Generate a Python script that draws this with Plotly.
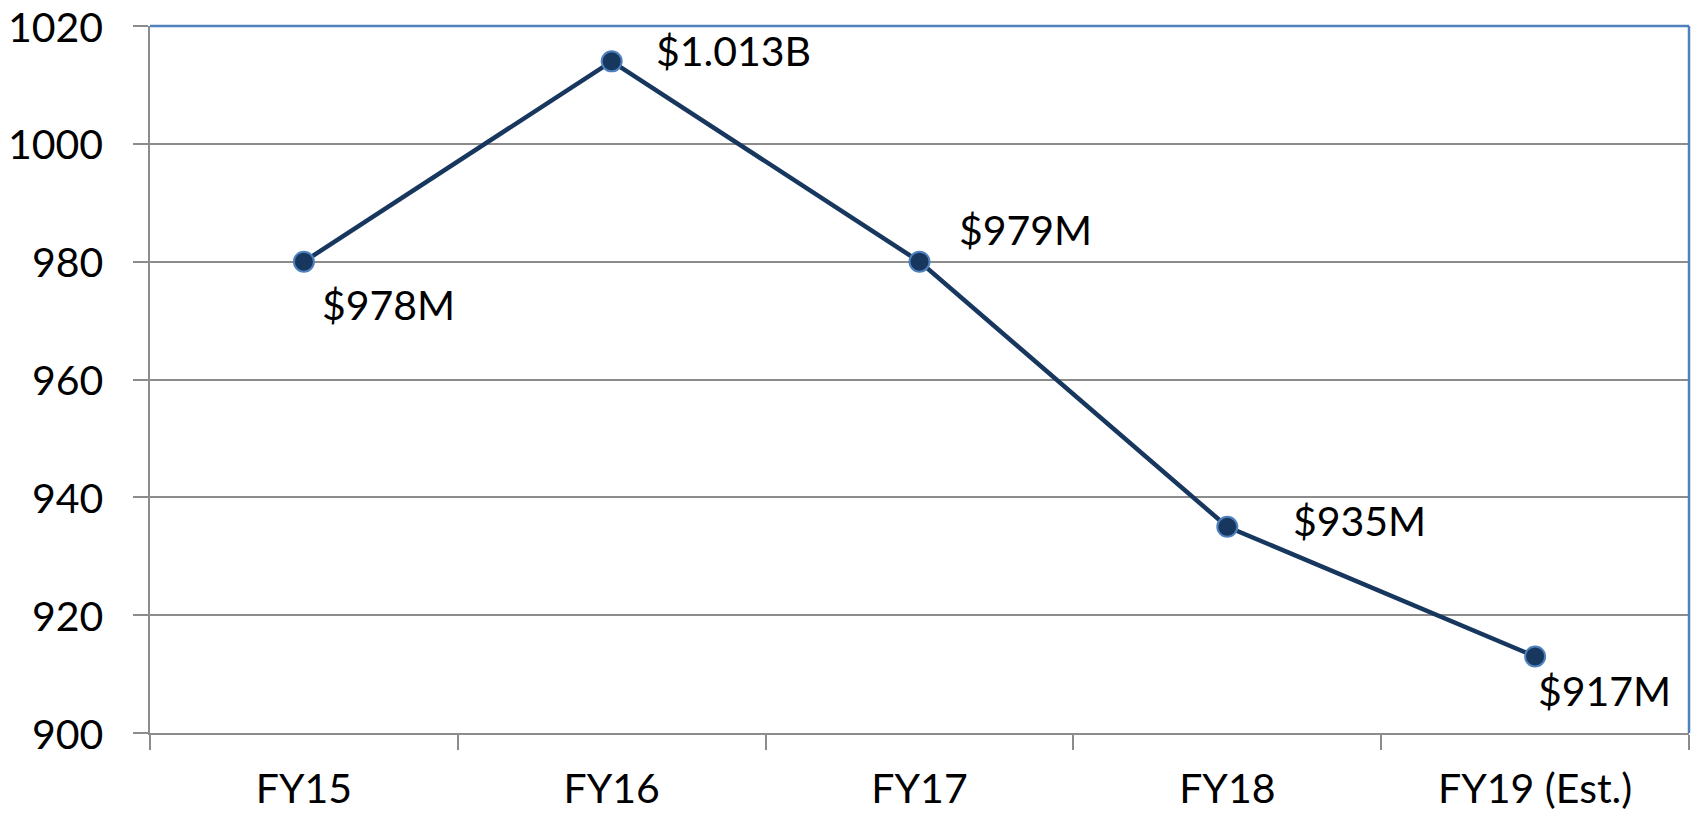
import plotly.graph_objects as go

categories = ["FY15", "FY16", "FY17", "FY18", "FY19 (Est.)"]
values = [980, 1014, 980, 935, 913]
labels = ["$978M", "$1.013B", "$979M", "$935M", "$917M"]
y_ticks = [900, 920, 940, 960, 980, 1000, 1020]

# label placement (pixel offsets from marker): style only
label_offsets = [(16, -43), (42, 11), (37, 32), (64, 6), (1, -34)]

FONT = "Lato"
FS = 41
GRID = "#8c8c8c"
BLUE = "#4F81BD"
NAVY = "#17375E"

fig = go.Figure()
fig.add_trace(go.Scatter(
    x=categories, y=values, mode="lines+markers",
    line=dict(color=NAVY, width=4.5),
    marker=dict(size=20, color=NAVY, line=dict(color=BLUE, width=2)),
    showlegend=False, hoverinfo="skip",
))

for c, v, t, (dx, dy) in zip(categories, values, labels, label_offsets):
    fig.add_annotation(x=c, y=v, text=t, showarrow=False,
                       xanchor="left", yanchor="middle",
                       xshift=dx, yshift=dy,
                       font=dict(family=FONT, size=FS, color="black"))

# y-axis tick labels, placed on the y scale
for yv in y_ticks:
    fig.add_annotation(xref="paper", yref="y", x=0, y=yv, text=str(yv),
                       showarrow=False, xanchor="right", yanchor="middle",
                       xshift=-45,
                       font=dict(family=FONT, size=FS, color="black"))

fig.update_layout(
    width=1694, height=817,
    margin=dict(l=150, r=5, t=26, b=84),
    paper_bgcolor="white", plot_bgcolor="white",
    font=dict(family=FONT, size=FS, color="black"),
)
fig.update_xaxes(
    type="category", range=[-0.5, 4.5], tickson="boundaries",
    ticks="outside", ticklen=15, tickwidth=2, tickcolor=GRID,
    showgrid=False, showline=True, linecolor=GRID, linewidth=2,
    ticklabelstandoff=19, zeroline=False, automargin=False,
    ticklabeloverflow="allow",
)
fig.update_yaxes(
    range=[900, 1020], tickvals=y_ticks, showticklabels=False,
    ticks="outside", ticklen=15, tickwidth=2, tickcolor=GRID,
    showgrid=True, gridcolor=GRID, gridwidth=2,
    showline=True, linecolor=GRID, linewidth=2,
    zeroline=False, automargin=False,
)
fig.add_shape(type="line", xref="paper", yref="paper", x0=0, x1=1, y0=1, y1=1,
              line=dict(color=BLUE, width=2.5), layer="above")
fig.add_shape(type="line", xref="paper", yref="paper", x0=1, x1=1, y0=0, y1=1,
              line=dict(color=BLUE, width=2.5), layer="above")

fig.write_html("out.html", config={"displayModeBar": False},
               post_script="document.body.style.margin='0';document.body.style.padding='0';")
